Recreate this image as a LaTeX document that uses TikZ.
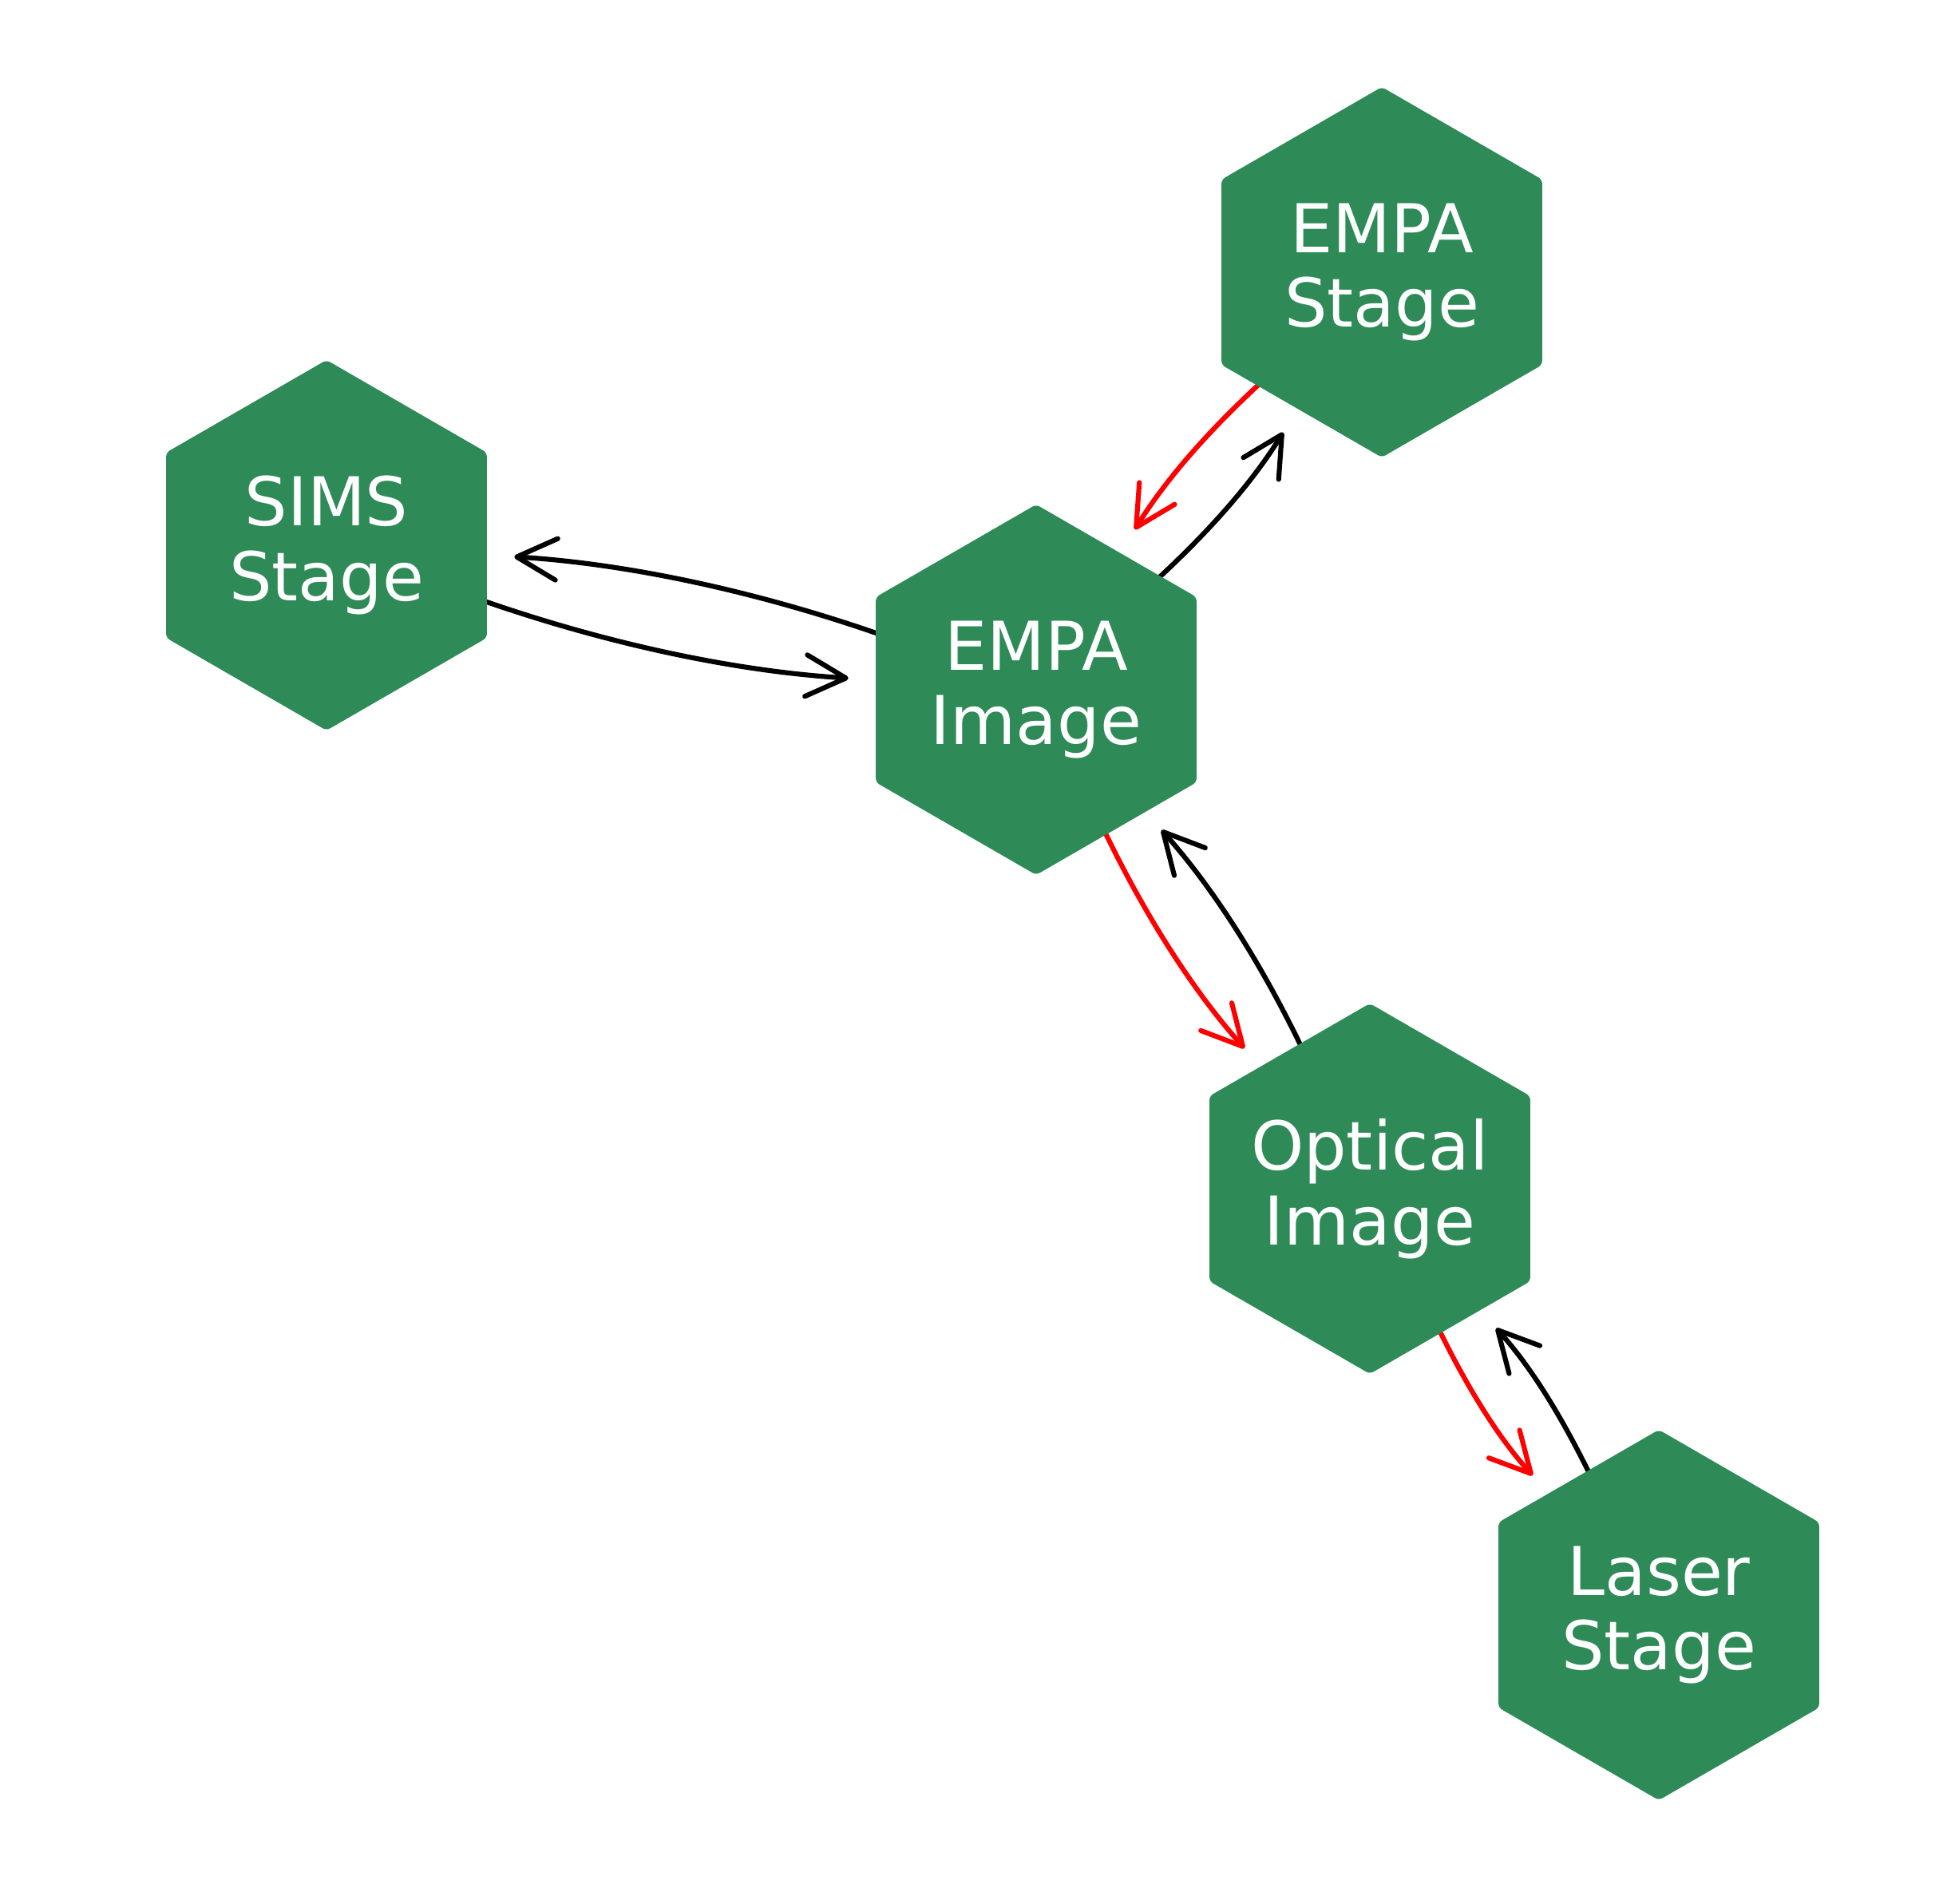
\documentclass[tikz,border=0pt]{standalone}
\usepackage{fontspec}
\setmainfont{DejaVu Sans}
\usetikzlibrary{arrows.meta,backgrounds}
\definecolor{hexgreen}{HTML}{2E8B57}

\tikzset{
    hexnode/.style={circle,minimum size=4.7cm,inner sep=0pt,text=white,align=center,
        font=\fontsize{24}{26.7}\selectfont,
        path picture={\fill[hexgreen,rounded corners=1.5pt]
            ([shift={(90:2.32)}]path picture bounding box.center)
            -- ++(210:2.32) -- ++(270:2.32) -- ++(330:2.32)
            -- ++(30:2.32) -- ++(90:2.32) -- cycle;}},
    link/.style={line width=1.75pt,-{Straight Barb[length=5mm,width=5.2mm,round]},
        bend right=8,looseness=0.8,shorten <=-4mm},
}

\begin{document}
\begin{tikzpicture}
    \useasboundingbox (0,0) rectangle (24.44,23.85);
    % stages and images
        \node[hexnode] (sims) at (4.09,17.02) {SIMS\\Stage};
        \node[hexnode] (empastage) at (17.31,20.44) {EMPA\\Stage};
        \node[hexnode] (empaimage) at (12.98,15.21) {EMPA\\Image};
        \node[hexnode] (optical) at (17.16,8.96) {Optical\\Image};
        \node[hexnode] (laser) at (20.78,3.62) {Laser\\Stage};
    % links, under the hexagons
    \begin{pgfonlayer}{background}
        % sims
        \draw[link] (empaimage) to (sims);
        \draw[link] (sims) to (empaimage);
        % empa stage
        \draw[link,red] (empastage) to (empaimage);
        \draw[link] (empaimage) to (empastage);
        % optical
        \draw[link,red] (empaimage) to (optical);
        \draw[link] (optical) to (empaimage);
        % laser
        \draw[link,red] (optical) to (laser);
        \draw[link] (laser) to (optical);
    \end{pgfonlayer}
\end{tikzpicture}
\end{document}
